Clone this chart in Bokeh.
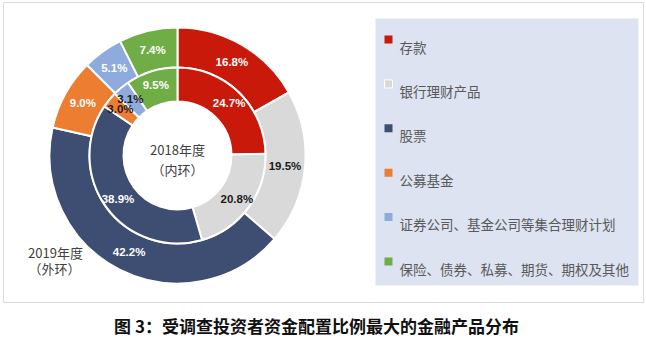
import math
from bokeh.plotting import figure
from bokeh.models import Range1d, ColumnDataSource
from bokeh.core.properties import value
from bokeh.embed import file_html
from bokeh.resources import INLINE

categories = ["存款", "银行理财产品", "股票", "公募基金", "证券公司、基金公司等集合理财计划", "保险、债券、私募、期货、期权及其他"]
values_2018 = [24.7, 20.8, 38.9, 3.0, 3.1, 9.5]   # inner ring
values_2019 = [16.8, 19.5, 42.2, 9.0, 5.1, 7.4]   # outer ring
colors = ["#C8190A", "#D9D9D9", "#3D4E72", "#ED7D31", "#8FAADC", "#70AD47"]
caption = "图 3：受调查投资者资金配置比例最大的金融产品分布"

W, H = 646, 342
p = figure(width=W, height=H, output_backend="svg", toolbar_location=None,
           x_range=Range1d(0, W), y_range=Range1d(0, H), min_border=0)
p.axis.visible = False
p.grid.visible = False
p.outline_line_color = None
p.background_fill_color = "white"

def sy(y):
    return H - y

# chart border
p.quad(left=[3], right=[643], bottom=[sy(302)], top=[sy(2)], fill_color=None,
       line_color="#D9D9D9", line_width=1)

cx, cy = 177, sy(155)
r_hole, r_mid_in, r_mid_out, r_out = 54, 88, 88, 128

def ring(vals, r0, r1, dark_thresh, rfrac):
    total = sum(vals)
    cum = 0.0
    starts, ends, lx, ly, txt, tcol = [], [], [], [], [], []
    for i, v in enumerate(vals):
        a_start = math.pi / 2 - 2 * math.pi * (cum + v) / total
        a_end = math.pi / 2 - 2 * math.pi * cum / total
        starts.append(a_start)
        ends.append(a_end)
        mid = (a_start + a_end) / 2
        rm = r0 + (r1 - r0) * rfrac
        lx.append(cx + rm * math.cos(mid))
        ly.append(cy + rm * math.sin(mid))
        txt.append(f"{v:.1f}%")
        dark = (i == 1) or (v < dark_thresh)
        tcol.append("#1A1A1A" if dark else "white")
        cum += v
    src = ColumnDataSource(dict(x=[cx] * len(vals), y=[cy] * len(vals), s=starts, e=ends,
                                c=colors, lx=lx, ly=ly, t=txt, tc=tcol))
    p.annular_wedge(x="x", y="y", inner_radius=r0, outer_radius=r1, start_angle="s",
                    end_angle="e", fill_color="c", line_color="white", line_width=2,
                    source=src)
    p.text(x="lx", y="ly", text="t", text_color="tc", text_align="center",
           text_baseline="middle", text_font=value("Liberation Sans"),
           text_font_size="11.5px", text_font_style="bold", source=src)

ring(values_2019, r_mid_out, r_out, 0, 0.5)
ring(values_2018, r_hole, r_mid_in, 4, 0.58)

# center / ring labels
p.text(x=[cx, cx], y=[sy(149), sy(169)], text=["2018年度", "（内环）"], text_color="#404040",
       text_align="center", text_baseline="middle", text_font=value("Noto Sans CJK SC"),
       text_font_size="13px")
p.text(x=[55, 54], y=[sy(252), sy(268)], text=["2019年度", "（外环）"], text_color="#404040",
       text_align="center", text_baseline="middle", text_font=value("Noto Sans CJK SC"),
       text_font_size="13px")

# legend box
p.quad(left=[375], right=[638], bottom=[sy(285)], top=[sy(18)], fill_color="#DDE3F1",
       line_color=None)
lg_y0, lg_dy = 45, 44.4
for i, (cat, col) in enumerate(zip(categories, colors)):
    yy = lg_y0 + i * lg_dy
    p.quad(left=[384], right=[392], bottom=[sy(yy - 2)], top=[sy(yy - 10)], fill_color=col,
           line_color="white" if i == 1 else None, line_width=1)
    p.text(x=[399], y=[sy(yy + 1)], text=[cat], text_color="#595959", text_align="left",
           text_baseline="middle", text_font=value("Noto Sans CJK SC"), text_font_size="13.5px")

# caption
p.text(x=[316], y=[sy(325)], text=[caption], text_color="#111111", text_align="center",
       text_baseline="middle", text_font=value("Noto Sans CJK SC"), text_font_size="17px",
       text_font_style="bold")

open("out.html", "w").write(file_html(p, INLINE))
